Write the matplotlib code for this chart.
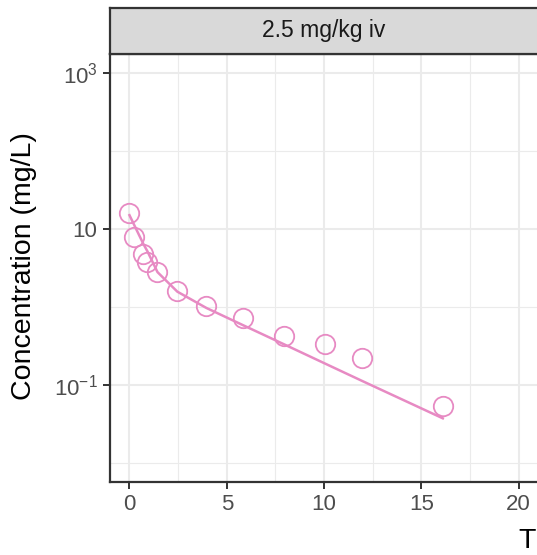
import numpy as np
import matplotlib.pyplot as plt
plt.switch_backend('Agg')

plt.rcParams['font.family'] = ['Liberation Sans', 'DejaVu Sans']
plt.rcParams['mathtext.fontset'] = 'custom'
plt.rcParams['mathtext.rm'] = 'Liberation Sans'

# observed concentrations
obs_time = [0.0, 0.25, 0.72, 0.92, 1.44, 2.46, 3.95, 5.85, 7.95, 10.05, 11.95, 16.1]
obs_conc = [16.0, 7.9, 4.8, 3.8, 2.85, 1.6, 1.03, 0.72, 0.42, 0.33, 0.22, 0.054]
# model prediction
pred_conc = [15.1, 11.2, 6.4, 5.2, 2.8, 1.57, 0.97, 0.58, 0.33, 0.187, 0.112, 0.037]

panel_title = '2.5 mg/kg iv'
x_ticks = [0, 5, 10, 15, 20]
y_ticks = [1e-1, 1e1, 1e3]
y_tick_labels = [r'$10^{-1}$', '10', r'$10^{3}$']

pink = '#E78AC3'
W, H = 537, 555
L, R, B, T, ST = 110, 538, 482, 54, 8   # panel / strip edges in pixels
fig = plt.figure(figsize=(W / 100, H / 100), dpi=100)
ax = fig.add_axes([L / W, (H - B) / H, (R - L) / W, (B - T) / H])

ax.set_yscale('log')

ax.plot(obs_time, pred_conc, color=pink, lw=1.8, zorder=3)
ax.plot(obs_time, obs_conc, 'o', ms=14, mfc='none', mec=pink, mew=1.3, zorder=4)

ax.set_xticks(x_ticks)
ax.set_xticks([2.5, 7.5, 12.5, 17.5], minor=True)
ax.set_yticks(y_ticks)
ax.set_yticklabels(y_tick_labels)
ax.set_yticks([1e-2, 1e0, 1e2], minor=True)
ax.yaxis.set_minor_formatter(plt.NullFormatter())
ax.set_xlim(-1.0, 20.99)
ax.set_ylim(10 ** -2.25, 10 ** 3.25)

ax.grid(which='major', color='#EBEBEB', lw=1.5)
ax.grid(which='minor', color='#EBEBEB', lw=0.8)
ax.set_axisbelow(True)
ax.tick_params(which='major', length=5, width=1.4, color='#333333', labelcolor='#4D4D4D', labelsize=16, pad=4)
ax.tick_params(which='minor', length=0)
for s in ax.spines.values():
    s.set_color('#333333')
    s.set_linewidth(1.6)

# facet strip
strip = fig.add_axes([L / W, (H - T) / H, (R - L) / W, (T - ST) / H])
strip.set_xticks([])
strip.set_yticks([])
strip.set_facecolor('#D9D9D9')
for s in strip.spines.values():
    s.set_color('#333333')
    s.set_linewidth(1.6)
strip.text(0.5, 0.5, panel_title, ha='center', va='center',
           fontsize=16.5, color='#1A1A1A', transform=strip.transAxes)

fig.text(24 / W, (H - 266) / H, 'Concentration (mg/L)', rotation=90, ha='center', va='center', fontsize=20.5)
fig.text(519 / W, (H - 548) / H, 'Time (h)', ha='left', va='baseline', fontsize=20.5)

fig.savefig('out.png', dpi=100)
